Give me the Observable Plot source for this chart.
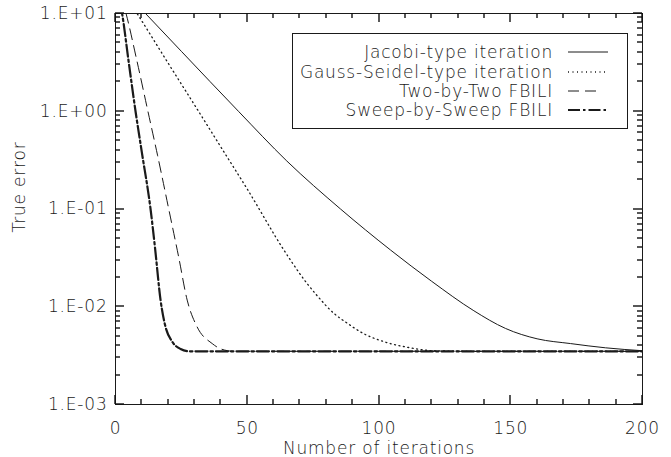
<!DOCTYPE html>
<html><head><meta charset="utf-8">
<script src="https://cdn.jsdelivr.net/npm/d3@7"></script>
<script src="https://cdn.jsdelivr.net/npm/@observablehq/plot@0.6"></script>
<style>
body{margin:0;background:#fff;}
#chart svg{font-family:"DejaVu Sans",sans-serif;font-weight:200;}
</style></head><body><div id="chart"></div>
<script>
// ---- data ----
const seriesNames = ["Jacobi-type iteration", "Gauss-Seidel-type iteration", "Two-by-Two FBILI", "Sweep-by-Sweep FBILI"];
const jacobiIter = [0, 11.4, 25, 46.8, 65, 85.4, 104.4, 120, 136, 148, 160, 172.7, 186, 200];
const jacobiErr  = [21, 10, 4.1, 0.99, 0.31, 0.1, 0.038, 0.0182, 0.0091, 0.0060, 0.0047, 0.0042, 0.0038, 0.00355];
const gaussIter = [0, 8.2, 20, 31.5, 40, 50, 63.9, 66.4, 72.7, 76.5, 82.8, 87.9, 94.2, 101.8, 112, 120.6, 135, 200];
const gaussErr  = [22, 10, 3.1, 1.0, 0.43, 0.16, 0.038, 0.030, 0.0173, 0.0130, 0.0086, 0.0068, 0.0053, 0.0044, 0.0038, 0.00355, 0.0035, 0.0035];
const twoIter = [0, 4, 8, 12.3, 16, 20.2, 24, 27.2, 31, 36.7, 40, 45, 200];
const twoErr  = [22, 10, 3.4, 1.0, 0.35, 0.1, 0.032, 0.0117, 0.0062, 0.0042, 0.0037, 0.0035, 0.0035];
const sweepIter = [0, 2.5, 5, 7.6, 10, 13.3, 15, 17.1, 19, 21.5, 24.7, 28, 200];
const sweepErr  = [20, 10, 3.2, 1.0, 0.38, 0.1, 0.04, 0.0117, 0.0062, 0.0044, 0.0037, 0.0035, 0.0035];

const xMajorTicks = [0, 50, 100, 150, 200];
const xMinorTicks = [10, 20, 30, 40, 60, 70, 80, 90, 110, 120, 130, 140, 160, 170, 180, 190];
const yMajorTicks = [1e1, 1e0, 1e-1, 1e-2, 1e-3];
const yTickLabels = ["1.E+01", "1.E+00", "1.E-01", "1.E-02", "1.E-03"];
const yMinorTicks = [1e-3, 1e-2, 1e-1, 1e0].flatMap(p => [2,3,4,5,6,7,8,9].map(m => +(m * p).toPrecision(3)));
const xTitle = "Number of iterations";
const yTitle = "True error";

(function () {
const W = 671, H = 457, mL = 115, mR = 29, mT = 13, mB = 53;
const toRows = (xs, ys) => xs.map((x, i) => ({x, y: ys[i]}));
const series = [
  {rows: toRows(jacobiIter, jacobiErr), dash: null, width: 1},
  {rows: toRows(gaussIter, gaussErr), dash: "1,3.5", width: 1.3},
  {rows: toRows(twoIter, twoErr), dash: "11,6", width: 1},
  {rows: toRows(sweepIter, sweepErr), dash: "12,3,2.5,3", width: 2.2}
];
const ink = "#1a1a1a";
const fs = 17;

const lineMarks = series.map(s => Plot.line(s.rows, {
  x: "x", y: "y", curve: "monotone-x", clip: true,
  stroke: ink, strokeWidth: s.width, strokeDasharray: s.dash
}));

const chart = Plot.plot({
  width: W, height: H,
  marginLeft: mL, marginRight: mR, marginTop: mT, marginBottom: mB,
  style: {fontFamily: "DejaVu Sans, sans-serif", fontSize: fs + "px", color: ink, background: "#fff", letterSpacing: "0.8px"},
  x: {domain: [0, 200]},
  y: {type: "log", domain: [1e-3, 1e1]},
  marks: [
    ...lineMarks,
    Plot.axisX(xMajorTicks, {anchor: "bottom", tickSize: 0, tickPadding: 17, tickFormat: d => String(d), label: null}),
    Plot.axisY(yMajorTicks, {anchor: "left", tickSize: 0, tickPadding: 8, tickFormat: d => yTickLabels[yMajorTicks.indexOf(d)], label: null}),
    Plot.frame({stroke: ink}),
    Plot.text([xTitle], {text: d => d, frameAnchor: "bottom", lineAnchor: "middle", textAnchor: "middle", dy: 44, fill: ink}),
    Plot.text([yTitle], {text: d => d, frameAnchor: "left", lineAnchor: "middle", textAnchor: "middle", dx: -96, dy: -22, rotate: -90, fill: ink})
  ]
});
document.getElementById("chart").appendChild(chart);

const svg = d3.select(chart);

// ---- inward ticks on all four sides, placed with Plot's own scales ----
const sx = chart.scale("x"), sy = chart.scale("y");
const pLeft = mL, pRight = W - mR, pTop = mT, pBottom = H - mB;
const tg = svg.append("g").attr("stroke", "#111").attr("stroke-width", 1.4).attr("fill", "none");
const xTick = (v, len) => {
  const x = Math.round(sx.apply(v));
  tg.append("line").attr("x1", x).attr("x2", x).attr("y1", pBottom).attr("y2", pBottom - len);
  tg.append("line").attr("x1", x).attr("x2", x).attr("y1", pTop).attr("y2", pTop + len);
};
const yTick = (v, len) => {
  const y = Math.round(sy.apply(v));
  tg.append("line").attr("y1", y).attr("y2", y).attr("x1", pLeft).attr("x2", pLeft + len);
  tg.append("line").attr("y1", y).attr("y2", y).attr("x1", pRight).attr("x2", pRight - len);
};
xMajorTicks.forEach(v => xTick(v, 9));
xMinorTicks.forEach(v => xTick(v, 5));
yMajorTicks.forEach(v => yTick(v, 9));
yMinorTicks.forEach(v => yTick(v, 5));

// ---- legend ----
const lg = svg.append("g").attr("font-family", "DejaVu Sans, sans-serif").attr("font-weight", 200)
  .attr("font-size", fs).attr("letter-spacing", "0.8px");
lg.append("rect").attr("x", 292.5).attr("y", 33.5).attr("width", 335).attr("height", 95)
  .attr("fill", "#fff").attr("stroke", ink).attr("stroke-width", 1);
const rowY = [52, 72, 91, 110];
const sampleEnds = [608, 608, 598, 608];
seriesNames.forEach((name, i) => {
  lg.append("text").attr("x", 553).attr("y", rowY[i]).attr("dy", "0.35em")
    .attr("text-anchor", "end").attr("fill", ink).text(name);
  lg.append("line").attr("x1", 568).attr("x2", sampleEnds[i]).attr("y1", rowY[i]).attr("y2", rowY[i])
    .attr("stroke", ink).attr("stroke-width", series[i].width)
    .attr("stroke-dasharray", series[i].dash);
});
})();
</script></body></html>
